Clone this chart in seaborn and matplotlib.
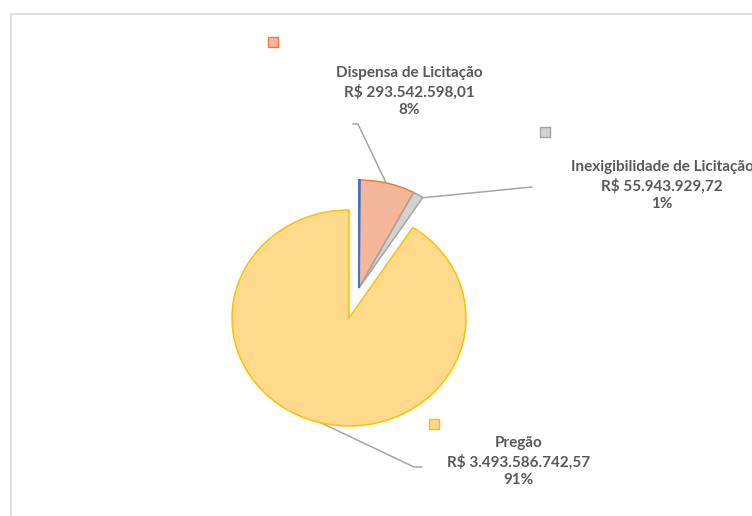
import matplotlib
matplotlib.use("Agg")
import matplotlib.pyplot as plt
import seaborn as sns

# data
categories = ["Outros", "Dispensa de Licitação", "Inexigibilidade de Licitação", "Pregão"]
values = [4000000.00, 293542598.01, 55943929.72, 3493586742.57]
value_labels = ["", "R$ 293.542.598,01", "R$ 55.943.929,72", "R$ 3.493.586.742,57"]

edge_colors = ["#4472C4", "#ED7D31", "#A5A5A5", "#FFC000"]
fill_colors = ["#8FAADC", "#F4B79C", "#D2D2D2", "#FFD98C"]

sns.set_theme(style="white")
plt.rcParams['font.family'] = ['Lato', 'DejaVu Sans']

W, H = 752, 516
fig = plt.figure(figsize=(W / 100, H / 100), dpi=100)
fig.patch.set_facecolor("white")

# overlay axes in pixel coordinates (y down)
ov = fig.add_axes([0, 0, 1, 1])
ov.set_xlim(0, W)
ov.set_ylim(H, 0)
ov.axis("off")

# chart frame
ov.plot([10.5, 10.5, W + 5], [H + 5, 13.5, 13.5], color="#D9D9D9", lw=1.2, clip_on=False)

# pie axes: pregao centre (349, 318), radii 117 x 108 px
cx, cy, rx, ry = 349, 318, 117, 108
pax = fig.add_axes([(cx - rx) / W, (H - cy - ry) / H, 2 * rx / W, 2 * ry / H])
pax.set_zorder(2)

total = sum(values)
# main pie (only Pregão visible)
w_main, _ = pax.pie(values, colors=fill_colors, startangle=90, counterclock=False,
                    radius=1, center=(0, 0),
                    wedgeprops=dict(linewidth=1.1))
# small slices exploded together along their shared bisector
offset = (10 / rx, 30 / ry)
w_small, _ = pax.pie(values, colors=fill_colors, startangle=90, counterclock=False,
                     radius=1, center=offset,
                     wedgeprops=dict(linewidth=1.1))
for i, w in enumerate(w_main):
    w.set_edgecolor(edge_colors[i])
    w.set_clip_on(False)
    w.set_visible(i == 3)
for i, w in enumerate(w_small):
    w.set_edgecolor(edge_colors[i])
    w.set_clip_on(False)
    w.set_visible(i != 3)
w_small[0].set_zorder(5)
w_small[0].set_linewidth(1.4)

pax.set_aspect("auto")
pax.set_xlim(-1, 1)
pax.set_ylim(-1, 1)
pax.axis("off")

# leader lines
lc = "#A6A6A6"
ov.plot([388, 358, 353], [187, 124, 124], color=lc, lw=1.1, zorder=3)
ov.plot([420, 532], [198, 187], color=lc, lw=1.1, zorder=3)
ov.plot([315, 414, 422], [420, 467, 467], color=lc, lw=1.1, zorder=1)

# labels
txt = "#595959"
label_pos = {1: (409, 73, 273, 42), 2: (662, 167, 545, 132), 3: (519, 443, 434, 424)}
for i, (tx, ty, kx, ky) in label_pos.items():
    pct = f"{round(values[i] / total * 100):.0f}%"
    lines = [categories[i], value_labels[i], pct]
    for j, line in enumerate(lines):
        ov.text(tx, ty + j * 18.7, line, ha="center", va="center", fontsize=11,
                fontweight="bold", color=txt)
    ov.scatter([kx], [ky], marker="s", s=55, color=fill_colors[i],
               edgecolor=edge_colors[i], linewidth=1, zorder=4)

fig.savefig("out.png", dpi=100)
